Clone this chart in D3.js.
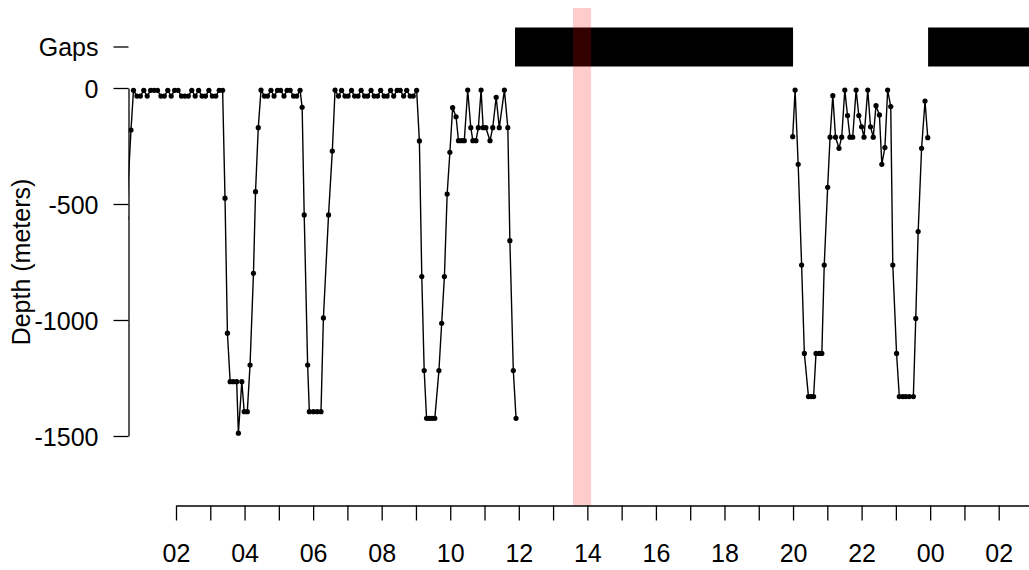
<!DOCTYPE html>
<html>
<head>
<meta charset="utf-8">
<script src="https://cdn.jsdelivr.net/npm/d3@7"></script>
<style>
  html, body { margin: 0; padding: 0; background: #fff; }
  svg { display: block; font-family: "Liberation Sans", Arial, sans-serif; }
</style>
</head>
<body>
<svg id="chart" width="1029" height="570"></svg>
<script>
// ---- Data (times in decimal hours since 00:00 of day 1; depths in meters) ----
const timesA = [0.55, 0.687,
  0.76,0.86,0.96,1.06,1.16,1.26,1.36,1.46,1.56,1.66,1.76,1.86,1.96,2.06,2.16,2.26,2.36,2.46,2.56,2.66,2.76,2.86,2.96,3.06,3.16,3.26,3.36,
  3.43,3.50,3.58,3.67,3.77,3.82,3.92,3.99,4.08,4.16,4.26,4.32,4.40,4.48,
  4.58,4.67,4.77,4.86,4.96,5.05,5.15,5.24,5.33,5.43,5.52,5.62,
  5.68,5.74,5.84,5.89,6.01,6.12,6.23,6.30,6.45,6.56,6.64,
  6.74,6.83,6.93,7.02,7.12,7.21,7.31,7.40,7.50,7.59,7.69,7.78,7.88,7.97,8.07,8.16,8.26,8.35,8.45,8.54,8.64,8.73,8.83,8.92,9.02,
  9.10,9.17,9.24,9.31,9.39,9.47,9.55,9.67,9.75,9.83,9.91,9.99,10.07,10.17,10.24,10.33,10.41,10.51,10.60,10.66,10.75,10.82,10.90,10.96,11.04,11.16,11.24,11.34,11.43,11.58,11.68,11.74,11.84,11.92];
const depthsA = [-560, -181,
  -10,-35,-35,-10,-35,-10,-10,-10,-35,-35,-10,-35,-10,-10,-35,-35,-35,-10,-35,-10,-35,-35,-10,-35,-35,-10,-10,
  -475,-1057,-1266,-1266,-1266,-1488,-1266,-1395,-1395,-1194,-799,-447,-171,-9,
  -35,-35,-10,-35,-10,-10,-35,-10,-10,-35,-35,-10,
  -83,-547,-1194,-1395,-1395,-1395,-1395,-991,-547,-272,-9,
  -35,-10,-35,-35,-10,-35,-35,-10,-35,-35,-10,-35,-35,-10,-35,-35,-10,-35,-10,-10,-35,-10,-35,-35,-10,
  -228,-813,-1218,-1424,-1424,-1424,-1424,-1218,-1014,-813,-457,-277,-85,-124,-227,-227,-227,-9,-171,-227,-227,-171,-9,-171,-171,-227,-171,-40,-171,-9,-171,-658,-1218,-1424];

const timesB = [19.99,20.06,20.15,20.25,20.33,20.45,20.53,20.60,20.67,20.77,20.84,20.91,21.01,21.08,21.16,21.24,21.34,21.42,21.51,21.59,21.66,21.74,21.84,21.92,22.00,22.07,22.18,22.26,22.34,22.42,22.52,22.59,22.68,22.76,22.85,22.91,23.02,23.10,23.20,23.29,23.39,23.51,23.58,23.65,23.75,23.85,23.93];
const depthsB = [-210,-9,-329,-763,-1144,-1330,-1330,-1330,-1144,-1144,-1144,-763,-428,-212,-33,-212,-260,-212,-9,-119,-212,-212,-9,-119,-167,-212,-9,-167,-212,-76,-116,-329,-257,-9,-80,-763,-1144,-1330,-1330,-1330,-1330,-1330,-993,-619,-260,-56,-214];

const gapStarts = [11.89, 23.94];
const gapEnds   = [20.00, 27.50];
const highlightStart = 13.58;
const highlightEnd   = 14.11;

const yTicks = [0, -500, -1000, -1500];
const axisStartHour = 2, axisEndHour = 27; // 02:00 day1 .. 03:00 day2
const gapsLabel = "Gaps";
const yTitle = "Depth (meters)";

// ---- Setup ----
const base = new Date(2021, 0, 1, 0, 0, 0);
const toDate = h => new Date(base.getTime() + h * 3600e3);

const svg = d3.select("#chart");
const FONT = 25;

const x = d3.scaleTime()
  .domain([toDate(axisStartHour), toDate(axisEndHour)])
  .range([176, 176 + 25 * 34.28]);
const y = d3.scaleLinear().domain([-1500, 0]).range([436, 88]);

const plotLeft = 128.5, plotRight = 1040, plotTop = 8, plotBottom = 505.5;
const gapsY = 47, gapsHalf = 19.5;

svg.append("defs").append("clipPath").attr("id", "plotclip")
  .append("rect").attr("x", plotLeft).attr("y", plotTop)
  .attr("width", plotRight - plotLeft).attr("height", plotBottom - plotTop);

const plot = svg.append("g").attr("clip-path", "url(#plotclip)");

// gaps bars
plot.selectAll("rect.gap").data(d3.zip(gapStarts, gapEnds)).join("rect")
  .attr("class", "gap")
  .attr("x", d => x(toDate(d[0])))
  .attr("width", d => x(toDate(d[1])) - x(toDate(d[0])))
  .attr("y", gapsY - gapsHalf).attr("height", 2 * gapsHalf)
  .attr("fill", "#000");

// highlight band
plot.append("rect")
  .attr("x", x(toDate(highlightStart)))
  .attr("width", x(toDate(highlightEnd)) - x(toDate(highlightStart)))
  .attr("y", plotTop).attr("height", plotBottom - plotTop)
  .attr("fill", "#ff0000").attr("fill-opacity", 0.2);

// series
const line = d3.line().x(d => x(toDate(d[0]))).y(d => y(d[1]));
[[timesA, depthsA], [timesB, depthsB]].forEach(([t, dep]) => {
  const pts = d3.zip(t, dep);
  plot.append("path").datum(pts)
    .attr("d", line).attr("fill", "none")
    .attr("stroke", "#000").attr("stroke-width", 1.4)
    .attr("stroke-linejoin", "round");
  plot.append("g").selectAll("circle").data(pts).join("circle")
    .attr("cx", d => x(toDate(d[0]))).attr("cy", d => y(d[1]))
    .attr("r", 2.6).attr("fill", "#000");
});

// y axis
const yAxis = d3.axisLeft(y).tickValues(yTicks).tickSize(15).tickSizeOuter(0)
  .tickPadding(15).tickFormat(d => String(d));
const gy = svg.append("g").attr("transform", `translate(${plotLeft},0)`).call(yAxis);
gy.selectAll("path, line").attr("stroke", "#000").attr("stroke-width", 1.3);
gy.selectAll("text").attr("font-size", FONT).attr("font-family", "Liberation Sans, Arial, sans-serif")
  .attr("fill", "#000").attr("dy", "0.36em");

// gaps tick + label
svg.append("line").attr("x1", plotLeft - 15).attr("x2", plotLeft)
  .attr("y1", gapsY).attr("y2", gapsY).attr("stroke", "#000").attr("stroke-width", 1.3);
svg.append("text").attr("x", plotLeft - 30).attr("y", gapsY).attr("dy", "0.36em")
  .attr("text-anchor", "end").attr("font-size", FONT).text(gapsLabel);

// y title
svg.append("text")
  .attr("transform", `translate(30,${(88 + 436) / 2}) rotate(-90)`)
  .attr("text-anchor", "middle").attr("font-size", FONT).text(yTitle);

// x axis
const hourTicks = d3.timeHour.range(toDate(axisStartHour), toDate(axisEndHour + 0.01));
const xAxis = d3.axisBottom(x).tickValues(hourTicks).tickSize(15).tickSizeOuter(0)
  .tickPadding(24).tickFormat(d => d.getHours() % 2 === 0 ? d3.timeFormat("%H")(d) : "");
const gx = svg.append("g").attr("transform", `translate(0,${plotBottom})`).call(xAxis);
gx.selectAll("path, line").attr("stroke", "#000").attr("stroke-width", 1.3);
gx.selectAll("text").attr("font-size", FONT).attr("font-family", "Liberation Sans, Arial, sans-serif")
  .attr("fill", "#000");
</script>
</body>
</html>
